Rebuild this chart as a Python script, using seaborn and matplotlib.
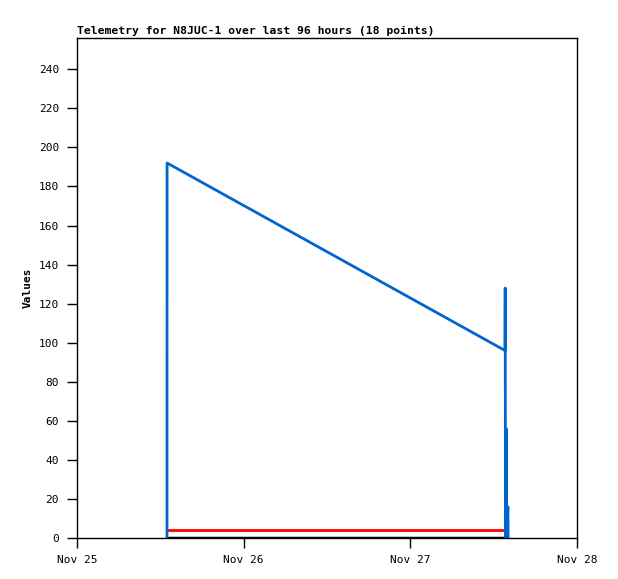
import pandas as pd
import matplotlib
matplotlib.use("Agg")
import matplotlib.pyplot as plt
import matplotlib.dates as mdates
import seaborn as sns

# Telemetry channels (times as hours after Nov 25 00:00)
blue_hours = [12.96, 12.97, 61.63, 61.66, 61.70, 61.82, 61.86, 62.05, 62.08]
blue_values = [0, 192, 96, 128, 0, 56, 0, 16, 0]
red_hours = [12.96, 61.63]
red_values = [4, 4]
black_hours = [12.96, 61.9]
black_values = [0, 0]

x_ticks = ["2023-11-25", "2023-11-26", "2023-11-27", "2023-11-28"]
y_ticks = list(range(0, 241, 20))
start = pd.Timestamp("2023-11-25")


def make_frame(hours, values):
    return pd.DataFrame({
        "time": [start + pd.Timedelta(hours=h) for h in hours],
        "value": values,
    })


sns.set_style("white")
plt.rcParams["font.family"] = ["DejaVu Sans Mono"]
plt.rcParams["text.color"] = "black"
plt.rcParams["axes.labelcolor"] = "black"

fig = plt.figure(figsize=(6.18, 5.79), dpi=100)
ax = fig.add_axes([77 / 618, 41 / 579, 500 / 618, 500 / 579])

sns.lineplot(data=make_frame(black_hours, black_values), x="time", y="value",
             color="black", linewidth=2.5, sort=False, estimator=None, ax=ax)
sns.lineplot(data=make_frame(red_hours, red_values), x="time", y="value",
             color="#ff0000", linewidth=2, sort=False, estimator=None, ax=ax)
sns.lineplot(data=make_frame(blue_hours, blue_values), x="time", y="value",
             color="#0066cc", linewidth=2, sort=False, estimator=None, ax=ax)

ax.set_xlim(pd.Timestamp(x_ticks[0]), pd.Timestamp(x_ticks[-1]))
ax.set_ylim(0, 256)
ax.set_xticks([pd.Timestamp(t) for t in x_ticks])
ax.xaxis.set_major_formatter(mdates.DateFormatter("%b %d"))
ax.set_yticks(y_ticks)
ax.tick_params(axis="both", direction="out", length=7, width=1, labelsize=8,
               colors="black", left=True, bottom=True)
ax.tick_params(axis="x", pad=5)
ax.tick_params(axis="y", pad=6)
for side in ax.spines.values():
    side.set_color("black")
    side.set_linewidth(1)

ax.set_xlabel("")
ax.set_ylabel("Values", fontsize=8, fontweight="bold", labelpad=4)
ax.set_title("Telemetry for N8JUC-1 over last 96 hours (18 points)",
             loc="left", fontsize=8.2, fontweight="bold", pad=3, color="black")

fig.savefig("out.png", dpi=100)
